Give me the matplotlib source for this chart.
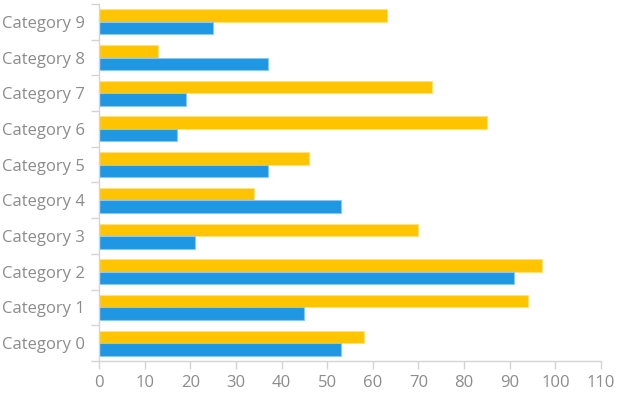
import numpy as np
import matplotlib.pyplot as plt

plt.rcParams['font.family'] = ['Open Sans', 'DejaVu Sans']

# Data
categories = ['Category %d' % i for i in range(10)]
blue_vals = [53, 45, 91, 21, 53, 37, 17, 19, 37, 25]
yellow_vals = [58, 94, 97, 70, 34, 46, 85, 73, 13, 63]
x_ticks = [0, 10, 20, 30, 40, 50, 60, 70, 80, 90, 100, 110]

blue = '#1f97e3'
yellow = '#ffc400'
axis_grey = '#d4d4d4'
text_grey = '#8c8c8c'

fig = plt.figure(figsize=(6.17, 4.01), dpi=100)
ax = fig.add_axes([99 / 617, 40 / 401, 502 / 617, 357 / 401])

y = np.arange(len(categories))
h = 0.35
ax.barh(y + h / 2, yellow_vals, height=h, color=yellow, edgecolor='#ffe27a', linewidth=0.8)
ax.barh(y - h / 2, blue_vals, height=h, color=blue, edgecolor='#8cc9f0', linewidth=0.8)

ax.set_xlim(0, 110)
ax.set_ylim(-0.5, len(categories) - 0.5)
ax.set_xticks(x_ticks)
ax.set_yticks(y)
ax.set_yticklabels(categories)
ax.set_yticks(np.arange(-0.5, len(categories)), minor=True)

for s in ['top', 'right']:
    ax.spines[s].set_visible(False)
for s in ['left', 'bottom']:
    ax.spines[s].set_color(axis_grey)
    ax.spines[s].set_linewidth(1)

ax.tick_params(axis='y', which='major', length=0, pad=10, labelsize=12, labelcolor=text_grey)
ax.tick_params(axis='y', which='minor', length=6, color=axis_grey, width=1)
ax.tick_params(axis='x', length=6, color=axis_grey, width=1, pad=4, labelsize=12, labelcolor=text_grey)

fig.savefig('out.png', dpi=100)
